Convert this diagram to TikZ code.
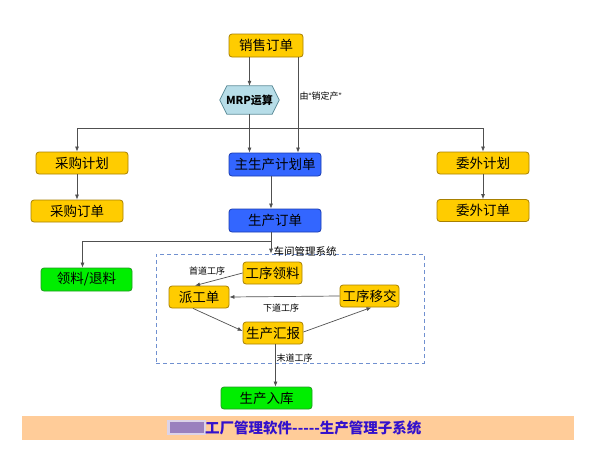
\documentclass[tikz,border=0pt]{standalone}
\usepackage{fontspec}
\setmainfont{Noto Sans CJK SC}
\newfontfamily\latq{Liberation Sans}
\usetikzlibrary{arrows.meta,backgrounds}
\definecolor{ylw}{HTML}{FFCC00}
\definecolor{ylwb}{HTML}{A88000}
\definecolor{blu}{HTML}{3366FF}
\definecolor{blub}{HTML}{1A3CB0}
\definecolor{grn}{HTML}{00EE00}
\definecolor{grnb}{HTML}{229922}
\definecolor{hexf}{HTML}{B7DDE8}
\definecolor{hexb}{HTML}{5E8E9A}
\definecolor{lnc}{HTML}{505050}
\definecolor{dsh}{HTML}{7090D0}
\definecolor{ban}{HTML}{FFCC99}
\definecolor{titc}{HTML}{3311CC}
\definecolor{mos}{HTML}{9A80BE}
\begin{document}
\begin{tikzpicture}[x=1pt,y=-1pt,
  base/.style={rounded corners=3pt, line width=0.8pt, inner sep=0pt, text=black,
    font=\fontsize{13.5}{14}\selectfont},
  ybox/.style={base, fill=ylw, draw=ylwb},
  bbox/.style={base, fill=blu, draw=blub},
  gbox/.style={base, fill=grn, draw=grnb},
  conn/.style={draw=lnc, line width=0.7pt},
  arr/.style={conn, -{Latex[length=5pt,width=4pt]}},
  lab/.style={font=\fontsize{9}{10}\selectfont, inner sep=0.5pt, text=black},
  dashbox/.style={draw=dsh, dashed, line width=0.7pt, dash pattern=on 4pt off 3pt}]
\useasboundingbox (0,0) rectangle (590,458);

% top
\node[ybox, minimum width=74, minimum height=23] (sale) at (266,45.5) {销售订单};
\node[minimum width=59, minimum height=28, inner sep=0pt,
      font=\fontsize{11}{12}\selectfont\bfseries] (mrp) at (249.5,100) {MRP运算};
\begin{scope}[on background layer]
\draw[fill=hexf, draw=hexb, line width=0.8pt] (mrp.west) -- ([xshift=7pt]mrp.north west)
  -- ([xshift=-7pt]mrp.north east) -- (mrp.east) -- ([xshift=-7pt]mrp.south east)
  -- ([xshift=7pt]mrp.south west) -- cycle;
\end{scope}

% second level
\node[ybox, minimum width=92, minimum height=22] (purplan) at (82,163) {采购计划};
\node[ybox, minimum width=92, minimum height=22] (purord) at (77,211) {采购订单};
\node[bbox, minimum width=92, minimum height=23] (mps) at (275,164.5) {主生产计划单};
\node[bbox, minimum width=92, minimum height=23] (pord) at (275,220.5) {生产订单};
\node[ybox, minimum width=92, minimum height=22] (outplan) at (483,163) {委外计划};
\node[ybox, minimum width=92, minimum height=22] (outord) at (483,210.5) {委外订单};
\node[gbox, minimum width=91, minimum height=23] (mat) at (86.5,279.5) {领料/退料};

% workshop
\node[dashbox, minimum width=268, minimum height=109, inner sep=0pt] (shop) at (290,308.5) {};
\node[ybox, minimum width=59, minimum height=22] (prem) at (272.5,273) {工序领料};
\node[ybox, minimum width=60, minimum height=22] (disp) at (199,297) {派工单};
\node[ybox, minimum width=59, minimum height=22] (trans) at (369.5,296) {工序移交};
\node[ybox, minimum width=60, minimum height=22] (rep) at (273,333) {生产汇报};
\node[gbox, minimum width=91, minimum height=22] (store) at (266.5,398) {生产入库};

% connectors top
\draw[arr] (mrp.north |- sale.south) -- (mrp.north);
\draw[arr] ([xshift=32pt]sale.south) -- ([xshift=32pt]sale.south |- mps.north);
\node[lab, anchor=west] (lsale) at (299,96) {由{\latq “}销定产{\latq ”}};
\coordinate (j) at (249.5,128);
\draw[conn] (mrp.south) -- (j);
\draw[arr] (j) -- (j |- mps.north);
\draw[arr] (j) -| (purord.north |- purplan.north);
\draw[arr] (j) -| (outplan.north);
\draw[arr] (purord.north |- purplan.south) -- (purord.north);
\draw[arr] (outplan.south) -- (outord.north);
\draw[arr] ([xshift=-4pt]mps.south) -- ([xshift=-4pt]pord.north);
\draw[arr] ([xshift=-4pt]pord.south) -- ++(0,9) -| ([xshift=-4pt]mat.north);
\draw[arr] ([xshift=-4pt]pord.south) -- ([xshift=-4pt]pord.south |- shop.north);
\node[lab, anchor=west, font=\fontsize{10.5}{11}\selectfont] (lshop) at (273,251) {车间管理系统};

% workshop connectors
\draw[arr] (prem.west) -- ([xshift=-4pt]disp.north);
\node[lab] (l1) at (207,271) {首道工序};
\draw[arr] (trans.west) -- (disp.east);
\node[lab] (l2) at (281,308) {下道工序};
\draw[arr] ([xshift=-6pt]disp.south) -- ([yshift=2pt]rep.west);
\draw[arr] ([yshift=1pt]rep.east) -- ([xshift=2pt]trans.south);
\draw[arr] ([xshift=2.5pt]rep.south) -- ([xshift=2.5pt]rep.south |- store.north);
\node[lab, anchor=west] (l3) at (276,358) {末道工序};

% banner
\node[fill=ban, minimum width=552, minimum height=24, inner sep=0pt] (banner) at (298,428) {};
\fill[mos!35] (167,420) rectangle (206,435);
\fill[mos] (170,422) rectangle (204,433);
\node[font=\fontsize{14.5}{15}\selectfont\bfseries, text=titc, inner sep=0pt, anchor=west] (title) at (205,428) {工厂管理软件{-}{-}{-}{-}{-}生产管理子系统};
\end{tikzpicture}
\end{document}
